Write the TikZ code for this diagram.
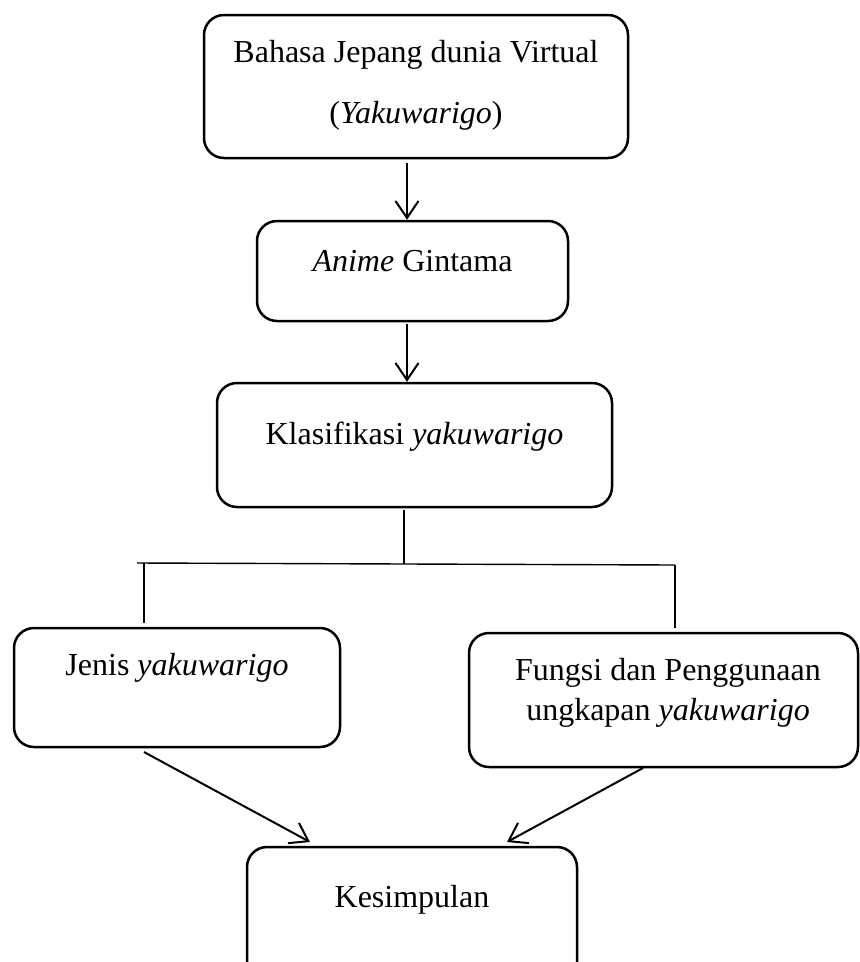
\documentclass[tikz,border=0pt]{standalone}
\usepackage{fontspec}
\setmainfont{Liberation Serif}
\usetikzlibrary{arrows.meta}
\begin{document}
\begin{tikzpicture}[x=1pt,y=-1pt,
  boxstyle/.style={draw, line width=2.5pt, rounded corners=20pt, inner sep=0pt},
  txt/.style={font=\fontsize{32}{38}\selectfont, anchor=base, inner sep=0pt},
  arr/.style={line width=2pt, -{Straight Barb[length=17pt,width=23pt,line width=2pt]}},
  conn/.style={line width=2pt},
  thinline/.style={line width=1.4pt}]
\useasboundingbox (0,0) rectangle (860,962);
\begin{scope}
\clip (0,0) rectangle (860,962);
% boxes
\node[boxstyle, minimum width=424pt, minimum height=143pt] (b1) at (416,86.5) {};
\node[boxstyle, minimum width=311pt, minimum height=100pt] (b2) at (412.5,271) {};
\node[boxstyle, minimum width=395pt, minimum height=124pt] (b3) at (414.5,445) {};
\node[boxstyle, minimum width=326pt, minimum height=119pt] (b4) at (177,687.5) {};
\node[boxstyle, minimum width=389pt, minimum height=134pt] (b5) at (663.5,700) {};
\node[boxstyle, minimum width=330pt, minimum height=140pt] (b6) at (412,917) {};
\end{scope}
% texts
\node[txt] (t1a) at (416,62) {Bahasa Jepang dunia Virtual};
\node[txt] (t1b) at (416,123) {(\textit{Yakuwarigo})};
\node[txt] (t2) at (412.5,271) {\textit{Anime} Gintama};
\node[txt] (t3) at (414.5,444) {Klasifikasi \textit{yakuwarigo}};
\node[txt] (t4) at (177,675) {Jenis \textit{yakuwarigo}};
\node[txt] (t5a) at (668,680) {Fungsi dan Penggunaan};
\node[txt] (t5b) at (668,720) {ungkapan \textit{yakuwarigo}};
\node[txt] (t6) at (412,907) {Kesimpulan};
% helper coordinates
\coordinate (xa) at (407,0);
\coordinate (xc) at (404,0);
\coordinate (hl) at (137,563);
\coordinate (hm) at (404,564);
\coordinate (hr) at (675,565);
\coordinate (vl) at (144,563);
\coordinate (vle) at (144,623);
\coordinate (vre) at (675,628);
\coordinate (dl1) at (144,752);
\coordinate (dl2) at (310,842);
\coordinate (dr1) at (643,768);
\coordinate (dr2) at (507,842);
% connectors
\draw[arr] ([yshift=-4pt]b1.south -| xa) -- (b2.north -| xa);
\draw[arr] ([yshift=-2pt]b2.south -| xa) -- (b3.north -| xa);
\draw[conn] ([yshift=-2pt]b3.south -| xc) -- (hm);
\draw[thinline] (hl) -- (hr);
\draw[conn] (vl) -- (vle);
\draw[thinline] (hr) -- (vre);
\draw[arr] (dl1) -- (dl2);
\draw[arr] (dr1) -- (dr2);
\end{tikzpicture}
\end{document}
